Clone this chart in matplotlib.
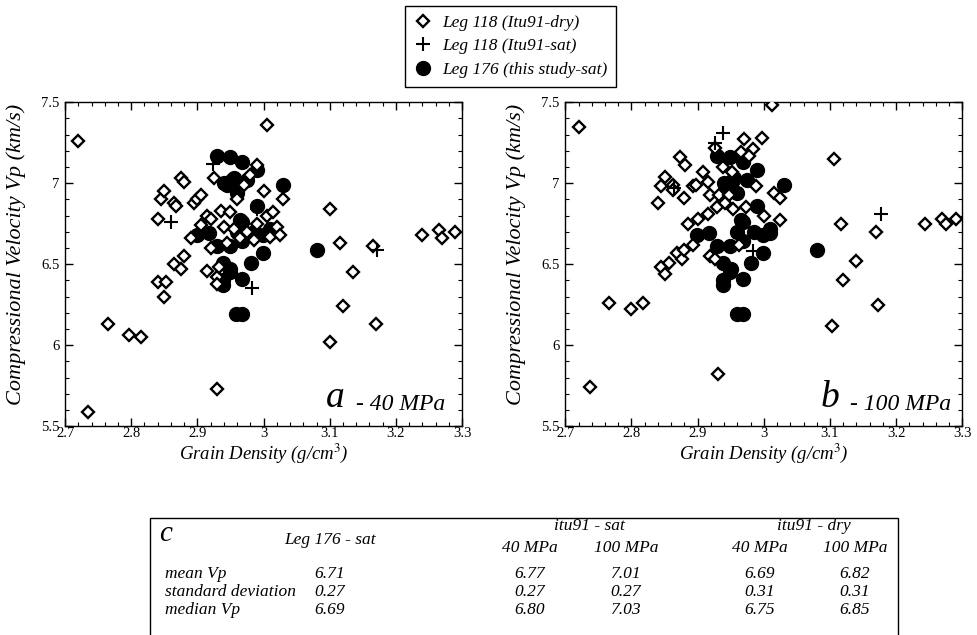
import numpy as np
import matplotlib
matplotlib.use("Agg")
import matplotlib.pyplot as plt
from matplotlib.lines import Line2D
from matplotlib.patches import Rectangle
from matplotlib.ticker import MultipleLocator, FuncFormatter

plt.rcParams['font.family'] = ['Liberation Serif', 'DejaVu Serif']
plt.rcParams['mathtext.fontset'] = 'stix'

# Leg 176 (this study, saturated) - same points on both panels
leg176_rho = [2.929, 2.949, 2.968, 2.990, 3.030, 2.953, 2.944, 2.960, 2.990, 2.968,
              3.010, 2.899, 2.917, 2.929, 2.949, 2.968, 2.999, 2.981, 2.938, 2.949,
              2.938, 2.938, 2.968, 2.959, 2.968, 2.960, 2.999, 3.010, 3.080, 2.955,
              2.940, 2.975, 2.985, 2.950, 2.965]
leg176_vp = [7.17, 7.16, 7.13, 7.08, 6.99, 7.02, 6.99, 6.94, 6.86, 6.76,
             6.72, 6.68, 6.69, 6.61, 6.61, 6.64, 6.57, 6.51, 6.51, 6.45,
             6.40, 6.37, 6.41, 6.19, 6.19, 6.70, 6.68, 6.69, 6.59, 7.03,
             7.00, 7.02, 6.70, 6.47, 6.77]

# Leg 118 dry, 40 MPa
dry40_rho = [2.720, 2.735, 2.765, 2.797, 2.815, 2.840, 2.852, 2.850, 2.840, 2.845,
             2.850, 2.865, 2.867, 2.865, 2.875, 2.875, 2.880, 2.880, 2.890, 2.895,
             2.900, 2.905, 2.905, 2.915, 2.915, 2.920, 2.920, 2.925, 2.930, 2.930,
             2.930, 2.932, 2.935, 2.940, 2.945, 2.950, 2.955, 2.960, 2.965, 2.970,
             2.975, 2.980, 2.985, 2.990, 2.990, 3.000, 3.005, 3.005, 3.010, 3.015,
             3.020, 3.030, 3.025, 3.100, 3.100, 3.115, 3.120, 3.135, 3.165, 3.170,
             3.240, 3.265, 3.270, 3.290]
dry40_vp = [7.26, 5.59, 6.13, 6.06, 6.05, 6.39, 6.39, 6.30, 6.78, 6.90,
            6.95, 6.88, 6.86, 6.50, 6.47, 7.03, 7.01, 6.55, 6.66, 6.88,
            6.90, 6.93, 6.74, 6.46, 6.80, 6.60, 6.78, 7.03, 5.73, 6.42,
            6.38, 6.48, 6.83, 6.73, 6.63, 6.82, 6.72, 6.90, 6.66, 6.99,
            6.70, 7.05, 6.65, 7.11, 6.75, 6.95, 7.36, 6.80, 6.67, 6.82,
            6.73, 6.90, 6.68, 6.84, 6.02, 6.63, 6.24, 6.45, 6.61, 6.13,
            6.68, 6.71, 6.66, 6.70]

# Leg 118 saturated, 40 MPa
sat40_rho = [2.923, 2.860, 2.990, 2.982, 3.172]
sat40_vp = [7.12, 6.76, 6.84, 6.35, 6.59]

# Leg 118 dry, 100 MPa
dry100_rho = [2.720, 3.013, 2.874, 2.881, 2.851, 2.844, 2.863, 2.863, 2.840, 2.880,
              2.893, 2.898, 2.908, 2.916, 2.919, 2.933, 2.926, 2.938, 2.952, 2.948,
              2.970, 2.966, 2.984, 2.978, 2.998, 2.988, 2.954, 2.973, 2.930, 2.916,
              2.900, 2.886, 3.000, 3.015, 3.025, 3.025, 3.106, 3.117, 3.170, 3.244,
              3.270, 3.275, 3.290, 2.738, 2.766, 2.800, 2.818, 2.844, 2.851, 2.857,
              2.869, 2.876, 2.880, 2.893, 2.919, 2.926, 2.931, 3.140, 3.120, 3.172,
              3.103, 2.942, 2.962]
dry100_vp = [7.35, 7.48, 7.16, 7.11, 7.04, 6.98, 6.99, 6.96, 6.88, 6.91,
             6.98, 6.99, 7.07, 7.01, 6.93, 6.93, 7.22, 7.10, 7.07, 6.93,
             7.27, 7.19, 7.21, 7.17, 7.28, 6.98, 6.84, 6.85, 6.85, 6.81,
             6.78, 6.75, 6.80, 6.94, 6.91, 6.77, 7.15, 6.75, 6.70, 6.75,
             6.78, 6.75, 6.78, 5.74, 6.26, 6.22, 6.26, 6.48, 6.44, 6.51,
             6.57, 6.53, 6.59, 6.62, 6.55, 6.53, 5.82, 6.52, 6.40, 6.25,
             6.12, 6.88, 6.62]

# Leg 118 saturated, 100 MPa
sat100_rho = [2.938, 2.926, 2.864, 3.177, 2.984]
sat100_vp = [7.31, 7.25, 6.97, 6.81, 6.58]

# summary table
row_labels = ["mean Vp", "standard deviation", "median Vp"]
leg176_stats = ["6.71", "0.27", "6.69"]
sat40_stats = ["6.77", "0.27", "6.80"]
sat100_stats = ["7.01", "0.27", "7.03"]
dry40_stats = ["6.69", "0.31", "6.75"]
dry100_stats = ["6.82", "0.31", "6.85"]

fig = plt.figure(figsize=(9.78, 6.35), dpi=100)

diam = dict(marker='D', ms=6, mfc='white', mec='black', mew=1.7, ls='none')
circ = dict(marker='o', ms=10, mfc='black', mec='black', ls='none')
plus = dict(marker='+', ms=10, mec='black', mew=1.5, ls='none')


def tick_fmt(v, pos):
    return ('%.1f' % v).rstrip('0').rstrip('.')


def make_panel(ax, dry_x, dry_y, sat_x, sat_y, letter, press, lx, px):
    ax.plot(leg176_rho, leg176_vp, zorder=2, **circ)
    ax.plot(dry_x, dry_y, zorder=3, **diam)
    ax.plot(sat_x, sat_y, zorder=4, **plus)
    ax.set_xlim(2.7, 3.3)
    ax.set_ylim(5.5, 7.5)
    ax.xaxis.set_major_locator(MultipleLocator(0.1))
    ax.xaxis.set_minor_locator(MultipleLocator(0.02))
    ax.yaxis.set_major_locator(MultipleLocator(0.5))
    ax.yaxis.set_minor_locator(MultipleLocator(0.1))
    ax.xaxis.set_major_formatter(FuncFormatter(tick_fmt))
    ax.yaxis.set_major_formatter(FuncFormatter(tick_fmt))
    ax.tick_params(which='both', direction='in', top=True, right=True, labelsize=10.5)
    ax.tick_params(axis='x', pad=1)
    ax.tick_params(axis='y', pad=4)
    ax.tick_params(which='major', length=6, width=1)
    ax.tick_params(which='minor', length=3, width=0.8)
    for s in ax.spines.values():
        s.set_linewidth(1)
    ax.set_xlabel("Grain Density (g/cm$^{3}$)", fontsize=13.5, style='italic', labelpad=1)
    ax.set_ylabel("Compressional Velocity Vp (km/s)", fontsize=16, style='italic')
    ax.yaxis.set_label_coords(-0.098, 0.53)
    ax.text(px, 0.035, press, transform=ax.transAxes, fontsize=17, style='italic',
            ha='right', va='bottom')
    ax.text(lx, 0.035, letter, transform=ax.transAxes, fontsize=27, style='italic',
            ha='right', va='bottom')


ax1 = fig.add_axes([0.0665, 0.329, 0.406, 0.510])
ax2 = fig.add_axes([0.578, 0.329, 0.406, 0.510])
make_panel(ax1, dry40_rho, dry40_vp, sat40_rho, sat40_vp, 'a', "- 40 MPa", 0.705, 0.958)
make_panel(ax2, dry100_rho, dry100_vp, sat100_rho, sat100_vp, 'b', "- 100 MPa", 0.69, 0.972)

handles = [Line2D([], [], **diam), Line2D([], [], **plus), Line2D([], [], **circ)]
labels = ["Leg 118 (Itu91-dry)", "Leg 118 (Itu91-sat)", "Leg 176 (this study-sat)"]
leg = fig.legend(handles, labels, loc='upper center', bbox_to_anchor=(0.522, 1.004),
                 prop={'family': 'Liberation Serif', 'style': 'italic', 'size': 12.5},
                 fancybox=False, edgecolor='black', framealpha=1, handlelength=1.0,
                 handletextpad=0.6, borderpad=0.5, labelspacing=0.42)
leg.get_frame().set_linewidth(1)

# table box
fig.patches.append(Rectangle((0.153, -0.02), 0.765, 0.204, transform=fig.transFigure,
                             fill=False, edgecolor='black', lw=1))
tk = dict(style='italic', fontsize=12.5)
fig.text(0.163, 0.148, "c", fontsize=21, style='italic', va='baseline')
fig.text(0.337, 0.143, "Leg 176 - sat", ha='center', va='baseline', **tk)
fig.text(0.603, 0.165, "itu91 - sat", ha='center', va='baseline', **tk)
fig.text(0.832, 0.165, "itu91 - dry", ha='center', va='baseline', **tk)
col_x = [0.337, 0.542, 0.640, 0.777, 0.874]
for x, h in zip(col_x[1:], ["40 MPa", "100 MPa", "40 MPa", "100 MPa"]):
    fig.text(x, 0.131, h, ha='center', va='baseline', **tk)
row_y = [0.089, 0.061, 0.033]
cols = [leg176_stats, sat40_stats, sat100_stats, dry40_stats, dry100_stats]
for i, lab in enumerate(row_labels):
    fig.text(0.169, row_y[i], lab, ha='left', va='baseline', **tk)
    for x, c in zip(col_x, cols):
        fig.text(x, row_y[i], c[i], ha='center', va='baseline', **tk)

fig.savefig("out.png", dpi=100)
